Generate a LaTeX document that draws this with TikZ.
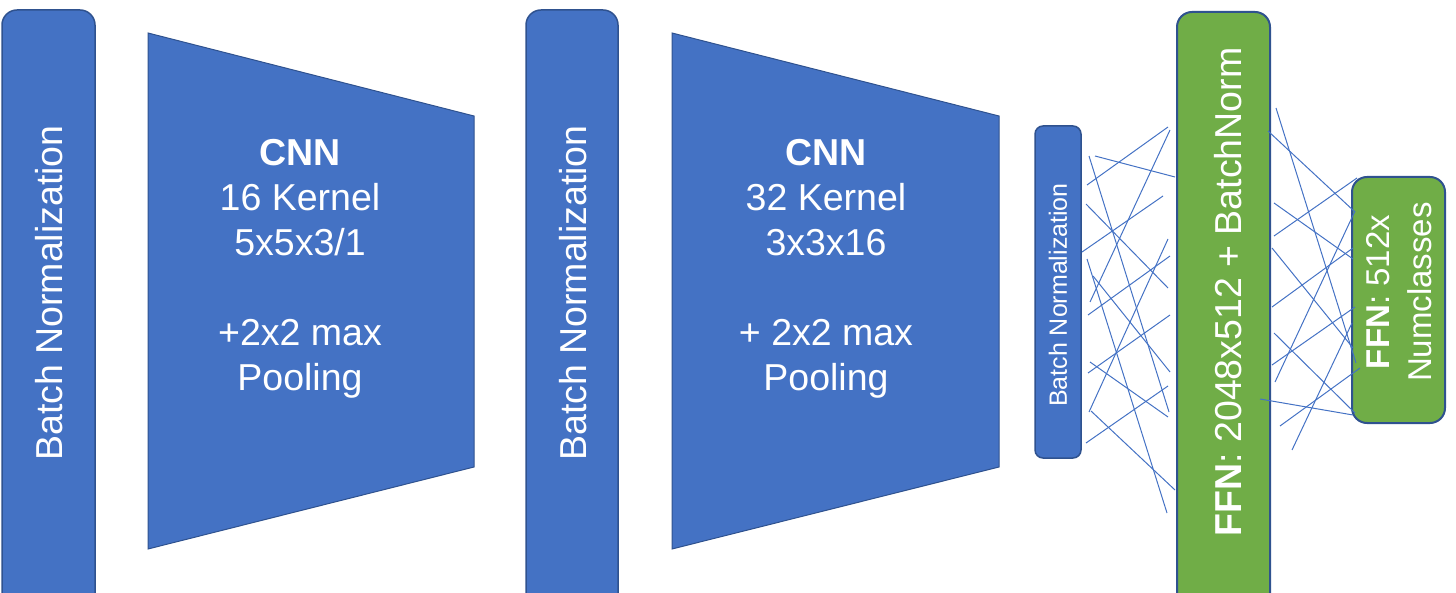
\documentclass[tikz,border=0pt]{standalone}
\usepackage{fontspec}
\setmainfont{Liberation Sans}
\definecolor{bnblue}{HTML}{4472C4}
\definecolor{edgeblue}{HTML}{2F528F}
\definecolor{ffngreen}{HTML}{70AD47}
\tikzset{
  bnbox/.style={fill=bnblue, draw=edgeblue, line width=1.5pt, rounded corners=15pt},
  ffnbox/.style={fill=ffngreen, draw=edgeblue, line width=2pt, rounded corners=15pt},
  cnnshape/.style={fill=bnblue, draw=edgeblue, line width=1pt},
  wtext/.style={text=white, inner sep=0pt, align=center},
  bigfont/.style={font=\fontsize{37.5}{45}\selectfont},
  smallfont/.style={font=\fontsize{25}{30}\selectfont},
  midfont/.style={font=\fontsize{33}{42}\selectfont},
  mesh/.style={draw=bnblue, line width=1pt}
}
\begin{document}
\begin{tikzpicture}[x=1pt,y=-1pt]
\useasboundingbox (0,0) rectangle (1456,593);
% Batch normalization boxes
\draw[bnbox] (2,620) rectangle (95,10);
\node[wtext,bigfont,rotate=90] (bn1) at (49,293) {Batch Normalization};
\draw[bnbox] (526,620) rectangle (618,10);
\node[wtext,bigfont,rotate=90] (bn2) at (573,293) {Batch Normalization};
% CNN trapezoids
\draw[cnnshape] (148,33) -- (474,116) -- (474,467) -- (148,549) -- cycle;
\node[wtext,bigfont] (cnn1) at (300,269) {\textbf{CNN}\\16 Kernel\\5x5x3/1\\[45pt]+2x2 max\\Pooling};
\draw[cnnshape] (672,33) -- (999,116) -- (999,467) -- (672,549) -- cycle;
\node[wtext,bigfont] (cnn2) at (826,269) {\textbf{CNN}\\32 Kernel\\3x3x16\\[45pt]+ 2x2 max\\Pooling};
% small BN
\draw[bnbox, rounded corners=8pt] (1035,458) rectangle (1081,126);
\node[wtext,smallfont,rotate=90] (bn3) at (1058,295) {Batch Normalization};
% big FFN
\draw[ffnbox] (1177,620) rectangle (1270,12);
\node[wtext,bigfont,rotate=90] (ffn1) at (1228,292) {\textbf{FFN}: 2048x512 + BatchNorm};
% small FFN
\draw[ffnbox] (1352,423) rectangle (1445,177);
\node[wtext,midfont,rotate=90] (ffn2) at (1399,292) {\textbf{FFN}: 512x\\Numclasses};
% left mesh
\foreach \a/\b/\c/\d in {
 1087/185/1168/127, 1095/156/1175/177, 1089/156/1169/412, 1170/130/1090/302,
 1086/204/1168/288, 1082/252/1163/196, 1087/259/1167/513, 1093/276/1170/372,
 1168/239/1089/412, 1170/256/1088/315, 1170/315/1088/373, 1090/362/1168/417,
 1168/386/1086/443, 1091/411/1175/490}
  \draw[mesh] (\a,\b) -- (\c,\d);
% right mesh
\foreach \a/\b/\c/\d in {
 1276/108/1356/363, 1268/131/1355/212, 1357/178/1274/236, 1274/203/1353/259,
 1353/248/1272/307, 1355/211/1275/382, 1272/248/1353/348, 1355/307/1272/365,
 1274/333/1355/413, 1260/399/1353/415, 1360/368/1280/426, 1352/323/1292/450}
  \draw[mesh] (\a,\b) -- (\c,\d);
\end{tikzpicture}
\end{document}
